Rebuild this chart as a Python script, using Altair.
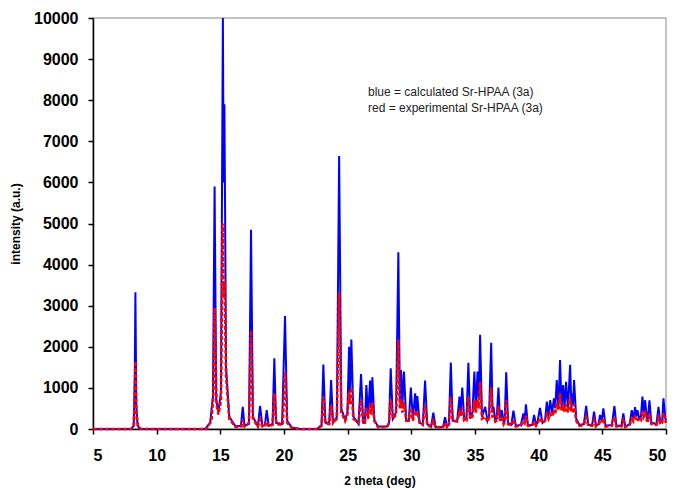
import altair as alt
import pandas as pd

# calculated pattern (blue) : 2-theta positions and intensities
calc_x = [5.0, 8.0, 8.2, 8.28, 8.33, 8.4, 8.5, 8.7,
          13.8, 14.2, 14.42, 14.55, 14.68, 14.85, 15.05, 15.2, 15.26, 15.32, 15.45, 15.7,
          16.2, 16.62, 16.76, 16.9, 17.25, 17.41, 17.56, 17.95, 18.12, 18.3, 18.5, 18.64, 18.8,
          19.1, 19.24, 19.38, 19.85, 20.08, 20.25, 20.6, 21.2,
          22.6, 22.95, 23.09, 23.25, 23.55, 23.7, 23.85, 24.15, 24.33, 24.5, 24.8, 24.98,
          25.11, 25.19, 25.29, 25.45, 25.85, 26.05, 26.22, 26.35, 26.47, 26.6, 26.76, 26.85,
          26.94, 27.1, 27.4, 28.1, 28.25, 28.38, 28.55, 28.8, 28.98, 29.1, 29.19, 29.3, 29.42,
          29.6, 29.8, 29.96, 30.12, 30.3, 30.38, 30.47, 30.65, 30.9, 31.08, 31.25, 31.55,
          31.73, 31.9, 32.3, 32.5, 32.65, 32.8, 32.95, 33.1, 33.25, 33.6, 33.78, 33.88, 34.0,
          34.15, 34.33, 34.48, 34.62, 34.8, 34.95, 35.07, 35.2, 35.3, 35.4, 35.55, 35.8,
          35.98, 36.1, 36.27, 36.38, 36.45, 36.6, 36.7, 36.84, 36.97, 37.1, 37.25, 37.33,
          37.45, 37.6, 37.85, 38.02, 38.2, 38.6, 38.8, 38.9, 39.0, 39.15, 39.5, 39.64, 39.8,
          39.9, 40.1, 40.3, 40.5, 40.64, 40.77, 40.9, 41.05, 41.2, 41.3, 41.42, 41.55, 41.68,
          41.8, 41.92, 42.03, 42.15, 42.3, 42.47, 42.57, 42.65, 42.7, 42.78, 42.95, 43.2,
          43.55, 43.73, 43.9, 44.2, 44.35, 44.5, 44.7, 44.82, 44.95, 45.08, 45.25, 45.75,
          45.95, 46.1, 46.5, 46.65, 46.8, 47.15, 47.31, 47.45, 47.57, 47.67, 47.76, 47.9,
          48.03, 48.15, 48.25, 48.36, 48.5, 48.58, 48.7, 48.85, 49.25, 49.41, 49.55, 49.7,
          49.8, 49.95, 50.0]
calc_y = [0, 0, 80, 1270, 3330, 600, 80, 0,
          0, 150, 800, 5900, 700, 420, 900, 10000, 6000, 7900, 1500, 300,
          60, 80, 540, 80, 120, 4850, 300, 60, 560, 80, 90, 460, 80,
          120, 1720, 150, 120, 2750, 200, 40, 0,
          0, 100, 1570, 150, 150, 1190, 150, 300, 6640, 500, 220, 400,
          2000, 900, 2180, 300, 120, 1340, 150, 150, 1070, 300, 1180, 500,
          1260, 200, 60, 60, 150, 1475, 250, 400, 4300, 700, 1435, 600, 1395,
          200, 200, 1010, 250, 870, 400, 800, 150, 120, 1180, 120, 60,
          400, 50, 40, 60, 285, 60, 100, 1620, 200, 200, 790, 400, 1010,
          250, 250, 1610, 250, 400, 1395, 500, 1395, 700, 2290, 300, 540,
          200, 300, 2100, 400, 540, 200, 250, 1010, 200, 460, 150, 200,
          1380, 150, 100, 445, 80, 100, 380, 200, 600, 100, 100, 340, 100,
          150, 510, 150, 200, 665, 300, 700, 400, 745, 500, 1190, 500, 1680,
          500, 1070, 500, 1150, 500, 1560, 500, 870, 600, 1190, 250, 100,
          120, 560, 100, 100, 420, 80, 120, 340, 200, 500, 80, 100,
          560, 80, 80, 380, 60, 120, 460, 250, 530, 300, 460, 250,
          300, 790, 400, 700, 250, 250, 700, 150, 120, 540, 150, 200,
          745, 250, 200]

# experimental pattern (red)
exp_x = [5.0, 8.0, 8.2, 8.28, 8.33, 8.4, 8.55, 8.8,
         13.9, 14.3, 14.45, 14.55, 14.7, 14.85, 15.05, 15.18, 15.26, 15.33, 15.45, 15.7,
         16.2, 16.65, 16.76, 16.9, 17.25, 17.41, 17.56, 17.95, 18.12, 18.3, 18.5, 18.64, 18.8,
         19.1, 19.24, 19.4, 19.9, 20.08, 20.25, 20.6, 21.2,
         22.6, 22.95, 23.09, 23.25, 23.55, 23.7, 23.85, 24.15, 24.33, 24.5, 24.8, 24.98,
         25.11, 25.19, 25.29, 25.45, 25.85, 26.05, 26.22, 26.35, 26.47, 26.6, 26.76, 26.85,
         26.94, 27.1, 27.4, 28.1, 28.25, 28.38, 28.55, 28.8, 28.98, 29.1, 29.19, 29.3, 29.42,
         29.6, 29.8, 29.96, 30.12, 30.3, 30.38, 30.47, 30.65, 30.9, 31.08, 31.25, 31.55,
         31.73, 31.9, 32.5, 32.65, 32.8, 32.95, 33.1, 33.25, 33.6, 33.78, 33.88, 34.0,
         34.15, 34.33, 34.48, 34.62, 34.8, 34.95, 35.07, 35.2, 35.3, 35.4, 35.55, 35.8,
         35.98, 36.1, 36.27, 36.38, 36.45, 36.6, 36.7, 36.84, 36.97, 37.1, 37.25, 37.33,
         37.45, 37.6, 37.85, 38.02, 38.2, 38.6, 38.8, 38.9, 39.0, 39.15, 39.5, 39.64, 39.8,
         39.9, 40.1, 40.3, 40.5, 40.64, 40.77, 40.9, 41.05, 41.2, 41.3, 41.42, 41.55, 41.68,
         41.8, 41.92, 42.03, 42.15, 42.3, 42.47, 42.57, 42.65, 42.7, 42.78, 42.95, 43.2,
         43.55, 43.73, 43.9, 44.2, 44.35, 44.5, 44.7, 44.82, 44.95, 45.08, 45.25, 45.75,
         45.95, 46.1, 46.5, 46.65, 46.8, 47.15, 47.31, 47.45, 47.57, 47.67, 47.76, 47.9,
         48.03, 48.15, 48.25, 48.36, 48.5, 48.58, 48.7, 48.85, 49.25, 49.41, 49.55, 49.7,
         49.8, 49.95, 50.0]
exp_y = [0, 0, 100, 900, 1650, 400, 50, 0,
         0, 200, 800, 2950, 600, 350, 700, 5000, 3200, 3600, 1300, 250,
         50, 60, 220, 60, 150, 2400, 250, 60, 230, 60, 60, 180, 60,
         100, 870, 120, 100, 1390, 150, 30, 0,
         0, 80, 790, 150, 120, 580, 150, 250, 3320, 400, 200, 350,
         900, 600, 1010, 250, 150, 700, 150, 150, 500, 250, 580, 350,
         650, 200, 40, 50, 150, 720, 250, 350, 2170, 500, 720, 400, 650,
         200, 200, 520, 200, 450, 300, 420, 150, 100, 580, 100, 50,
         200, 40, 50, 150, 50, 100, 790, 200, 180, 400, 300, 520,
         200, 200, 790, 250, 300, 700, 400, 700, 500, 1150, 250, 300,
         180, 250, 1010, 300, 300, 180, 200, 560, 180, 250, 120, 180,
         700, 120, 80, 230, 60, 80, 200, 150, 320, 80, 80, 180, 80,
         120, 270, 150, 200, 350, 250, 380, 300, 420, 380, 620, 450, 870,
         450, 580, 400, 600, 400, 780, 400, 480, 400, 600, 200, 80,
         100, 290, 80, 80, 220, 60, 100, 180, 150, 260, 60, 80,
         290, 60, 60, 200, 50, 100, 240, 180, 280, 200, 240, 180,
         200, 420, 300, 380, 200, 200, 370, 120, 100, 280, 120, 150,
         390, 200, 150]

x_ticks = [5, 10, 15, 20, 25, 30, 35, 40, 45, 50]
y_ticks = [0, 1000, 2000, 3000, 4000, 5000, 6000, 7000, 8000, 9000, 10000]
notes = ["blue = calculated Sr-HPAA (3a)", "red = experimental Sr-HPAA (3a)"]

calc = pd.DataFrame({"x": calc_x, "y": calc_y, "o": range(len(calc_x))})
exp = pd.DataFrame({"x": exp_x, "y": exp_y, "o": range(len(exp_x))})

FONT = "Liberation Sans"

xenc = alt.X("x:Q", scale=alt.Scale(domain=[5, 50], nice=False, zero=False),
             axis=alt.Axis(values=x_ticks, title="2 theta (deg)", format="d"))
yenc = alt.Y("y:Q", scale=alt.Scale(domain=[0, 10000], nice=False),
             axis=alt.Axis(values=y_ticks, title="intensity (a.u.)", format="d"))

blue = alt.Chart(calc).mark_line(color="#0000ff", strokeWidth=2).encode(
    x=xenc, y=yenc, order="o:Q")
red = alt.Chart(exp).mark_line(color="#ff0000", strokeWidth=2.6, strokeDash=[4, 2]).encode(
    x="x:Q", y="y:Q", order="o:Q")

t1 = alt.Chart(pd.DataFrame({"t": [notes[0]]})).mark_text(
    align="left", baseline="middle", font=FONT, fontSize=12, color="#222222").encode(
    text="t:N", x=alt.value(275), y=alt.value(74))
t2 = alt.Chart(pd.DataFrame({"t": [notes[1]]})).mark_text(
    align="left", baseline="middle", font=FONT, fontSize=12, color="#222222").encode(
    text="t:N", x=alt.value(275), y=alt.value(90))

chart = alt.layer(blue, red, t1, t2).properties(
    width=573, height=411,
    autosize=alt.AutoSizeParams(type="none"),
    padding={"left": 93, "top": 18, "right": 11, "bottom": 61},
).configure_view(stroke="#b0b0b0", strokeWidth=1.5).configure_axis(
    grid=False, domainColor="#000000", domainWidth=1.5, tickColor="#000000", tickWidth=1.5,
    tickSize=5, labelFont=FONT, labelFontSize=16, labelFontWeight="bold", labelColor="#000000",
    titleFont=FONT, titleFontSize=12, titleFontWeight="bold", titleColor="#000000",
).configure_axisX(labelPadding=13, titlePadding=12).configure_axisY(labelPadding=10, titlePadding=11)

chart.save("out.html", embed_options={"renderer": "svg", "actions": False})
